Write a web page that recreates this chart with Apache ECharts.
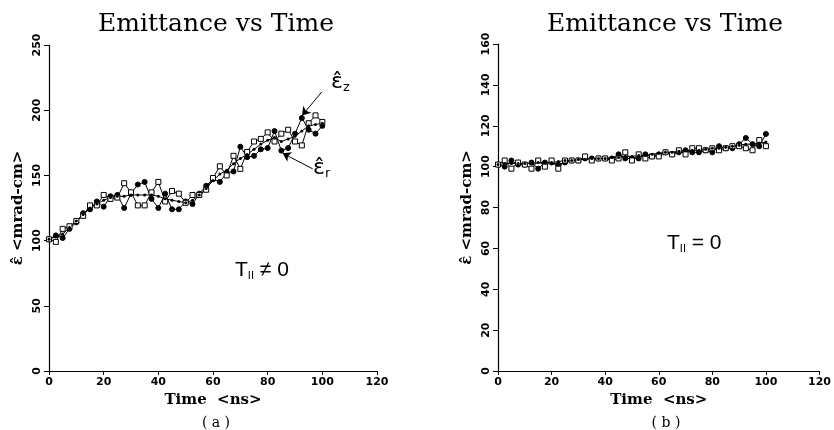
<!DOCTYPE html>
<html><head><meta charset="utf-8">
<script src="https://cdn.jsdelivr.net/npm/echarts@6/dist/echarts.min.js"></script>
<style>html,body{margin:0;padding:0;background:#fff}#c{width:834px;height:430px}</style>
</head><body><div id="c"></div>
<script>
// Time points (ns)
const times = [0,2.5,5,7.5,10,12.5,15,17.5,20,22.5,25,27.5,30,32.5,35,37.5,40,42.5,45,47.5,50,52.5,55,57.5,60,62.5,65,67.5,70,72.5,75,77.5,80,82.5,85,87.5,90,92.5,95,97.5,100];
// Panel (a): T|| != 0
const aFilled = [101,104,102,109,114,121,124,130,126,134,135,125,136,143,145,132,125,136,124,124,130,128,136,142,147,145,152,153,172,164,165,170,171,184,169,171,182,194,185,182,188];
const aOpen   = [101,99,109,111,115,119,127,127,135,132,133,144,137,127,127,137,145,130,138,136,129,135,135,139,148,157,150,165,155,168,176,178,183,176,182,185,176,173,190,196,191];
const aMean   = [101,103,105,110,115,120,125,128,131,133,134,134,135,135,135,135,134,132,131,130,129,131,135,140,146,151,154,159,163,166,170,174,177,179,176,178,180,184,188,189,190];
// Panel (b): T|| = 0
const bFilled = [101,100,103,101,101,102,99,102,102,101,102,103,103,104,104,104,104,104,106,104,104,104,106,105,106,107,106,107,108,107,107,108,107,110,109,109,111,114,111,110,116];
const bOpen   = [101,103,99,102,101,99,103,100,103,99,103,103,103,105,103,104,104,103,104,107,103,106,104,105,105,107,106,108,106,109,109,108,109,108,109,110,110,109,108,113,110];
const bMean   = [101,101.5,101.5,101.5,101.5,101.5,102,102,102,102.5,103,103,103.5,103.5,104,104,104,104.5,104.5,105,105,105.5,105.5,106,106.5,107,107,107.5,108,108,108,108.5,109,109,109.5,110,110.5,111,111,111.5,112];
// Axis ticks
const xTicks = {min:0,max:120,interval:20};
const aY = {min:0,max:250,interval:50};
const bY = {min:0,max:160,interval:20};

const pairs = arr => times.map((t,i)=>[t,arr[i]]);
const serif = 'DejaVu Serif';
const tickFont = {fontFamily:'DejaVu Sans',fontWeight:'bold',fontSize:11,color:'#000'};

function xAxis(gi){
  return {gridIndex:gi,type:'value',...xTicks,
    axisLine:{show:true,lineStyle:{color:'#000',width:1.2}},
    axisTick:{show:true,length:4,lineStyle:{color:'#000'}},
    splitLine:{show:false},
    axisLabel:{...tickFont,margin:6},
    name:'Time  <ns>',nameLocation:'middle',nameGap:20,
    nameTextStyle:{fontFamily:serif,fontWeight:'bold',fontSize:15,color:'#000'}};
}
function yAxis(gi,r){
  return {gridIndex:gi,type:'value',...r,
    axisLine:{show:true,lineStyle:{color:'#000',width:1.2}},
    axisTick:{show:true,length:5,lineStyle:{color:'#000'}},
    splitLine:{show:false},
    axisLabel:{...tickFont,rotate:90,margin:6},
    name:'\u03B5\u0302 <mrad-cm>',nameLocation:'middle',nameGap:23,
    nameTextStyle:{fontFamily:serif,fontWeight:'bold',fontSize:15,color:'#000'}};
}
function series(gi,fill,open,mean,extra){
  const base = {type:'line',xAxisIndex:gi,yAxisIndex:gi,lineStyle:{color:'#000',width:1},animation:false,z:3};
  const s = [
    {...base,name:'filled',data:pairs(fill),symbol:'circle',symbolSize:5,itemStyle:{color:'#000',borderColor:'#000'}},
    {...base,name:'open',data:pairs(open),symbol:'rect',symbolSize:5,itemStyle:{color:'#fff',borderColor:'#000',borderWidth:1}},
    {...base,name:'mean',data:pairs(mean),symbol:'circle',symbolSize:3,itemStyle:{color:'#000'}}
  ];
  if(extra) Object.assign(s[2],extra);
  return s;
}
const arrows = {markLine:{silent:true,symbol:['none','arrow'],symbolSize:8,label:{show:false},
  lineStyle:{color:'#000',type:'solid',width:1},
  data:[[{coord:[99.8,214]},{coord:[92.6,196]}],[{coord:[96.5,155]},{coord:[85.5,167]}]]}};

const titleStyle = {fontFamily:serif,fontSize:25,fontWeight:'normal',color:'#000'};
const txt = (f,s,w,pad) => ({fontFamily:f,fontSize:s,fontWeight:'normal',color:'#000',padding:pad||0});
const chart = echarts.init(document.getElementById('c'),null,{renderer:'canvas'});
chart.setOption({
  backgroundColor:'#fff',animation:false,
  title:[
    {text:'Emittance vs Time',left:211,top:7,textAlign:'center',textStyle:titleStyle},
    {text:'Emittance vs Time',left:660,top:7,textAlign:'center',textStyle:titleStyle},
    {text:'( a )',left:211,top:411,textAlign:'center',textStyle:{fontFamily:serif,fontSize:14,fontWeight:'normal',color:'#000'}},
    {text:'( b )',left:661,top:411,textAlign:'center',textStyle:{fontFamily:serif,fontSize:14,fontWeight:'normal',color:'#000'}},
    {text:'{t|T}{s|II}{t| \u2260 0}',left:230,top:255,textStyle:{fontWeight:'normal',rich:{t:txt('Liberation Sans',21),s:txt('Liberation Sans',11,0,[10,0,0,0])}}},
    {text:'{t|T}{s|II}{t| = 0}',left:662,top:228,textStyle:{fontWeight:'normal',rich:{t:txt('Liberation Sans',21),s:txt('Liberation Sans',11,0,[10,0,0,0])}}},
    {text:'{e|\u03B5\u0302}{s|z}',left:326,top:66,textStyle:{fontWeight:'normal',rich:{e:txt('DejaVu Sans',22),s:txt('DejaVu Sans',13,0,[10,0,0,0])}}},
    {text:'{e|\u03B5\u0302}{s|r}',left:308,top:152,textStyle:{fontWeight:'normal',rich:{e:txt('DejaVu Sans',22),s:txt('DejaVu Sans',13,0,[10,0,0,0])}}}
  ],
  grid:[
    {left:49,top:45,width:328,height:326,containLabel:false},
    {left:498,top:44,width:327,height:327,containLabel:false}
  ],
  xAxis:[xAxis(0),xAxis(1)],
  yAxis:[yAxis(0,aY),yAxis(1,bY)],
  series:[...series(0,aFilled,aOpen,aMean,arrows),...series(1,bFilled,bOpen,bMean)]
});
</script></body></html>
